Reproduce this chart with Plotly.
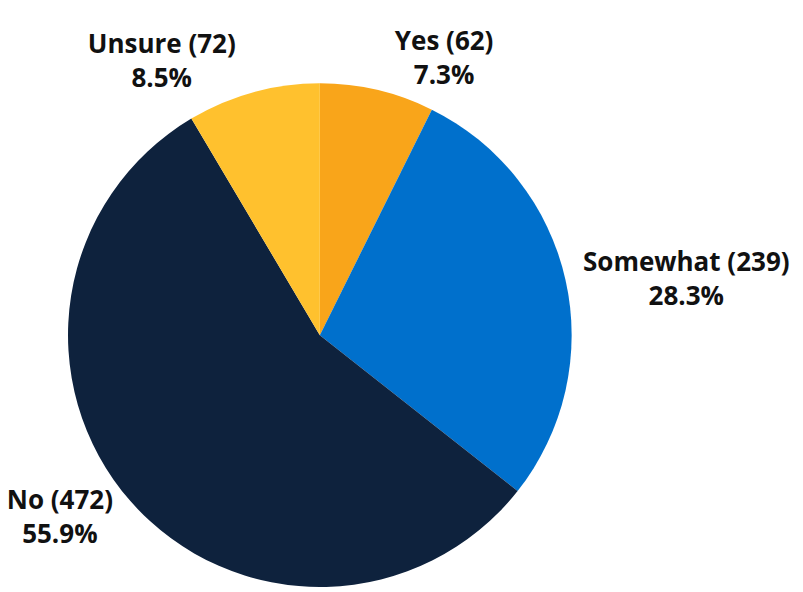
import plotly.graph_objects as go

labels = ["Yes", "Somewhat", "No", "Unsure"]
values = [62, 239, 472, 72]
colors = ["#F9A51A", "#0070CC", "#0E223D", "#FFC12E"]

fig = go.Figure(go.Pie(
    labels=labels,
    values=values,
    sort=False,
    direction="clockwise",
    rotation=0,
    marker=dict(colors=colors, line=dict(width=0)),
    texttemplate="<b>%{label} (%{value})</b><br><b>%{percent:.1%}</b>",
    textposition="outside",
    textfont=dict(family="Open Sans", size=26, color="#111111"),
    showlegend=False,
    hoverinfo="label+value+percent",
    domain=dict(x=[0.075, 0.711], y=[0.0, 0.858]),
))

fig.update_layout(
    width=803, height=592,
    margin=dict(l=0, r=0, t=0, b=0),
    paper_bgcolor="white",
    plot_bgcolor="white",
)

fig.write_html(
    "out.html",
    config={"displayModeBar": False},
    post_script="document.body.style.margin='0';document.body.style.overflow='hidden';",
)
